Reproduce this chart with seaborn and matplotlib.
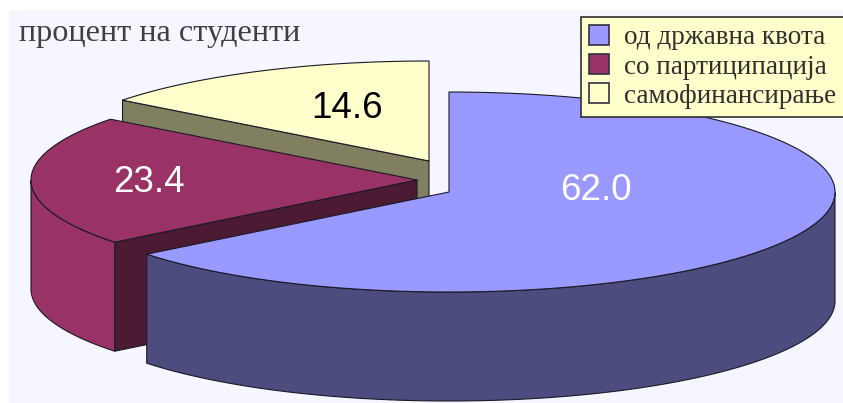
import numpy as np
import matplotlib
matplotlib.use("Agg")
import matplotlib.pyplot as plt
from matplotlib.patches import Patch, Rectangle
import seaborn as sns

# Data
categories = ["од државна квота", "со партиципација", "самофинансирање"]
shares = [62.0, 23.4, 14.6]
title_text = "процент на студенти"

# Style
top_colors = sns.color_palette(["#9999FF", "#993366", "#FFFFCC"])
side_colors = ["#4C4C7F", "#993366", "#808060"]
face_colors = [None, "#4D1A33", "#808060"]
label_colors = ["white", "white", "black"]
label_xy = [(596, 190), (149, 183), (347, 108)]
centres = [(449, 192), (417, 180), (429, 161)]
RX, RY, DEPTH = 386, 100, 109
EDGE = "#1A1A26"
BACKGROUND = "#F5F6FF"

sns.set_style("white")
plt.rcParams["font.family"] = ["Liberation Serif", "DejaVu Serif"]

fig = plt.figure(figsize=(8.43, 4.03), dpi=100)
ax = fig.add_axes([0, 0, 1, 1])
ax.set_xlim(0, 843)
ax.set_ylim(403, 0)
ax.axis("off")
ax.add_patch(Rectangle((9, 10), 840, 400, fc=BACKGROUND, ec="none", zorder=0))


def foreshorten(theta):
    """Clockwise angle from 12 o'clock, with the front of the disc stretched."""
    theta = np.asarray(theta, dtype=float)
    knee = 360 * (shares[0] + shares[1]) / sum(shares)
    bend = 11 * np.sin(np.pi * np.clip(theta, 0, knee) / knee)
    return theta + bend


def rim(centre, theta):
    a = np.radians(foreshorten(theta))
    return centre[0] + RX * np.sin(a), centre[1] - RY * np.cos(a)


def stroke_fill(xs, ys, fc, z, edge=EDGE):
    ax.fill(xs, ys, fc=fc, ec=edge, lw=0.8, joinstyle="round", zorder=z)


bounds = np.concatenate([[0], np.cumsum(shares)]) * 360 / sum(shares)

# Back slices first, so nearer ones overlap them
for z, i in enumerate([2, 1, 0]):
    start, stop = bounds[i], bounds[i + 1]
    centre = centres[i]
    theta = np.linspace(start, stop, 240)
    x, y = rim(centre, theta)
    base = 10 + 4 * z

    # Cut face along the leading edge of the slice
    if face_colors[i] is not None:
        ex, ey = rim(centre, start)
        stroke_fill([centre[0], ex, ex, centre[0]],
                    [centre[1], ey, ey + DEPTH, centre[1] + DEPTH],
                    face_colors[i], base)

    # Outer wall, only where the rim faces the viewer
    a = foreshorten(theta)
    front = (a >= 90) & (a <= 270)
    if front.any():
        wx, wy = x[front], y[front]
        stroke_fill(np.r_[wx, wx[::-1]], np.r_[wy, wy[::-1] + DEPTH],
                    side_colors[i], base + 1)

    # Top surface
    stroke_fill(np.r_[centre[0], x], np.r_[centre[1], y], top_colors[i], base + 2)

for value, (lx, ly), colour in zip(shares, label_xy, label_colors):
    ax.text(lx, ly, f"{value:.1f}", color=colour, ha="center", va="center",
            fontsize=26.5, family=["Liberation Sans", "DejaVu Sans"], zorder=40)

ax.text(19, 41, title_text, color="#404040", fontsize=23.2, ha="left",
        va="baseline", zorder=40)

handles = [Patch(fc=c, ec="#303040", lw=1.2) for c in top_colors]
legend = fig.legend(
    handles, categories, loc="upper left", mode="expand",
    bbox_to_anchor=(581 / 843, 1 - 114 / 403, 270 / 843, 97 / 403),
    bbox_transform=fig.transFigure, borderaxespad=0,
    fontsize=19.5, labelcolor="#303030", fancybox=False, framealpha=1,
    facecolor="#FFFFCC", edgecolor="#303030",
    handlelength=0.75, handleheight=0.75, handletextpad=0.55,
    labelspacing=0.14, borderpad=0.3,
)
legend.get_frame().set_linewidth(1.2)
legend.set_zorder(50)

fig.savefig("out.png", dpi=100, facecolor="white")
